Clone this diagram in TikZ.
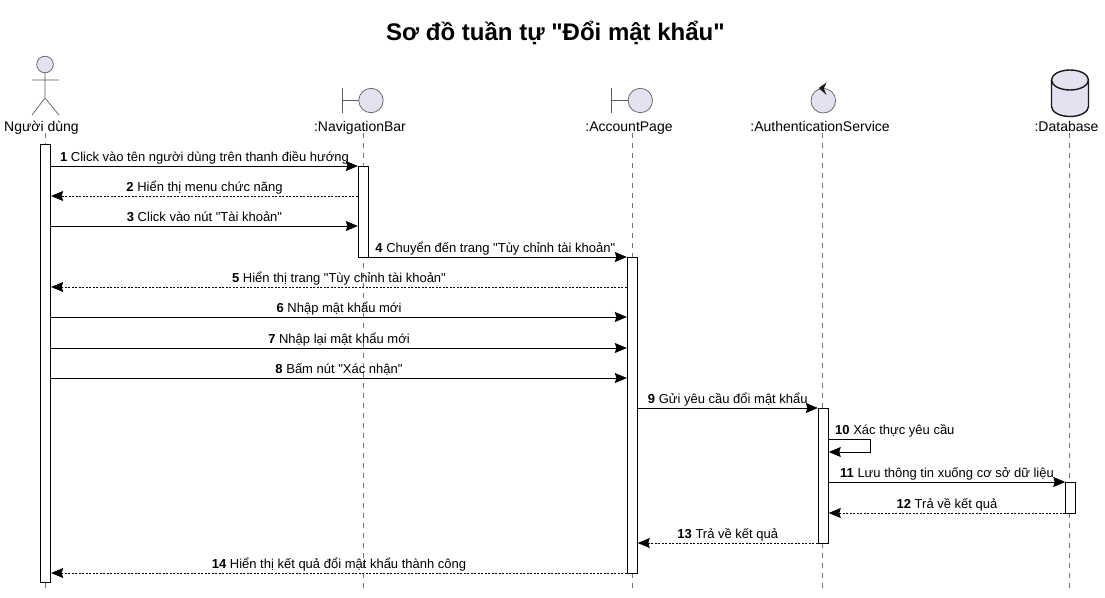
\documentclass[tikz,border=0pt]{standalone}
\usepackage{fontspec}
\setmainfont{Liberation Sans}[Ligatures=TeXOff]
\usetikzlibrary{arrows.meta}
\definecolor{partfill}{HTML}{E2E2F0}
\definecolor{linedark}{HTML}{181818}

\begin{document}
\begin{tikzpicture}[
		x=1pt, y=-1pt,
		lifeline/.style={draw=linedark!60, line width=0.7pt, dash pattern=on 5pt off 5pt},
		partline/.style={draw=linedark!70, line width=0.7pt},
		partname/.style={font=\fontsize{14}{16}\selectfont, inner sep=0pt, anchor=base},
		actbar/.style={
				rectangle,
				draw=black,
				fill=white,
				line width=0.9pt,
				minimum width=10pt,
				inner sep=0pt,
			},
		msgcall/.style={draw=black, line width=0.9pt, -{Stealth[length=12pt,width=10pt,inset=1.5pt]}},
		msgback/.style={draw=black, line width=0.7pt, dash pattern=on 2pt off 1.5pt, -{Stealth[length=12pt,width=10pt,inset=1.5pt]}},
		msgtext/.style={font=\fontsize{13}{15}\selectfont, inner sep=0pt, anchor=base, yshift=4.8pt},
	]
	\useasboundingbox (0,0) rectangle (1105,597);

	% Title
	\node[font=\bfseries\fontsize{24}{28}\selectfont, inner sep=0pt, anchor=base] (title) at (555.5,40)
	{Sơ đồ tuần tự "Đổi mật khẩu"};

	% Lifelines
	\coordinate (usertop) at (45.5,133);
	\coordinate (userend) at (45.5,589);
	\coordinate (navtop) at (363.3,133);
	\coordinate (navend) at (363.3,589);
	\coordinate (accounttop) at (632.3,133);
	\coordinate (accountend) at (632.3,589);
	\coordinate (authtop) at (822.5,133);
	\coordinate (authend) at (822.5,589);
	\coordinate (dbtop) at (1069.3,133);
	\coordinate (dbend) at (1069.3,589);
	\draw[lifeline] (usertop) -- (userend);
	\draw[lifeline] (navtop) -- (navend);
	\draw[lifeline] (accounttop) -- (accountend);
	\draw[lifeline] (authtop) -- (authend);
	\draw[lifeline] (dbtop) -- (dbend);

	% Actor
	\draw[partline, fill=partfill] (45,64.5) circle (8.3);
	\draw[partline] (45,73) -- (45,98) (32,80) -- (59,80) (32,115) -- (45,98) -- (59,115);
	\node[partname] (username) at (41.5,131) {Người dùng};

	% NavigationBar boundary
	\draw[partline] (342.5,88) -- (342.5,113) (342.5,100.5) -- (359,100.5);
	\draw[partline, fill=partfill] (371,100.5) circle (12.2);
	\node[partname] (navname) at (360,131) {:NavigationBar};

	% AccountPage boundary
	\draw[partline] (611,88) -- (611,113) (611,100.5) -- (628,100.5);
	\draw[partline, fill=partfill] (640.3,100.5) circle (12.2);
	\node[partname] (accountname) at (629,131) {:AccountPage};

	% AuthenticationService control
	\draw[partline, fill=partfill] (823.3,100.7) circle (12.3);
	\fill[linedark] (818.7,88) -- (826.5,82.5) -- (823.8,88.5) -- (826.5,95) -- cycle;
	\node[partname] (authname) at (820,131) {:AuthenticationService};

	% Database cylinder
	\draw[draw=linedark, line width=1.4pt, fill=partfill]
	(1051.5,80) arc[start angle=180, end angle=360, x radius=18.5, y radius=10]
	-- (1088.5,106.5) arc[start angle=0, end angle=180, x radius=18.5, y radius=10]
	-- cycle;
	\draw[draw=linedark, line width=1.4pt] (1051.5,80) arc[start angle=180, end angle=0, x radius=18.5, y radius=10];
	\node[partname] (dbname) at (1066.5,131) {:Database};

	% Activation bars
	\node[actbar, minimum height=438pt] (userbar) at (45.7,363) {};
	\node[actbar, minimum height=91pt] (navbar) at (363.3,211.5) {};
	\node[actbar, minimum height=316pt] (accountbar) at (632.3,415) {};
	\node[actbar, minimum height=135pt] (authbar) at (823.3,475.5) {};
	\node[actbar, minimum height=31pt] (dbbar) at (1070.7,497.5) {};

	% Message rows
	\coordinate (r1) at (0,166);
	\coordinate (r2) at (0,196);
	\coordinate (r3) at (0,226);
	\coordinate (r4) at (0,257);
	\coordinate (r5) at (0,287);
	\coordinate (r6) at (0,317);
	\coordinate (r7) at (0,348);
	\coordinate (r8) at (0,378);
	\coordinate (r9) at (0,408);
	\coordinate (r10) at (0,439.5);
	\coordinate (r10b) at (0,452);
	\coordinate (r11) at (0,482);
	\coordinate (r12) at (0,513);
	\coordinate (r13) at (0,543);
	\coordinate (r14) at (0,573);
	\coordinate (loopend) at (870.7,452);

	% Messages
	\draw[msgcall] (userbar.east |- r1) -- node[msgtext] (m1) {\textbf{1} Click vào tên người dùng trên thanh điều hướng} (navbar.west |- r1);
	\draw[msgback] (navbar.west |- r2) -- node[msgtext] (m2) {\textbf{2} Hiển thị menu chức năng} (userbar.east |- r2);
	\draw[msgcall] (userbar.east |- r3) -- node[msgtext] (m3) {\textbf{3} Click vào nút "Tài khoản"} (navbar.west |- r3);
	\draw[msgcall] (navbar.east |- r4) -- node[msgtext, xshift=-2.5pt] (m4) {\textbf{4} Chuyển đến trang "Tùy chỉnh tài khoản"} (accountbar.west |- r4);
	\draw[msgback] (accountbar.west |- r5) -- node[msgtext] (m5) {\textbf{5} Hiển thị trang "Tùy chỉnh tài khoản"} (userbar.east |- r5);
	\draw[msgcall] (userbar.east |- r6) -- node[msgtext] (m6) {\textbf{6} Nhập mật khẩu mới} (accountbar.west |- r6);
	\draw[msgcall] (userbar.east |- r7) -- node[msgtext] (m7) {\textbf{7} Nhập lại mật khẩu mới} (accountbar.west |- r7);
	\draw[msgcall] (userbar.east |- r8) -- node[msgtext] (m8) {\textbf{8} Bấm nút "Xác nhận"} (accountbar.west |- r8);
	\draw[msgcall] (accountbar.east |- r9) -- node[msgtext] (m9) {\textbf{9} Gửi yêu cầu đổi mật khẩu} (authbar.west |- r9);
	\draw[msgcall] (authbar.east |- r10) -| (loopend) -- (authbar.east |- r10b);
	\node[msgtext, anchor=base west] (m10) at (835,439.5) {\textbf{10} Xác thực yêu cầu};
	\draw[msgcall] (authbar.east |- r11) -- node[msgtext] (m11) {\textbf{11} Lưu thông tin xuống cơ sở dữ liệu} (dbbar.west |- r11);
	\draw[msgback] (dbbar.west |- r12) -- node[msgtext] (m12) {\textbf{12} Trả về kết quả} (authbar.east |- r12);
	\draw[msgback] (authbar.west |- r13) -- node[msgtext] (m13) {\textbf{13} Trả về kết quả} (accountbar.east |- r13);
	\draw[msgback] (accountbar.west |- r14) -- node[msgtext] (m14) {\textbf{14} Hiển thị kết quả đổi mật khẩu thành công} (userbar.east |- r14);

\end{tikzpicture}
\end{document}
